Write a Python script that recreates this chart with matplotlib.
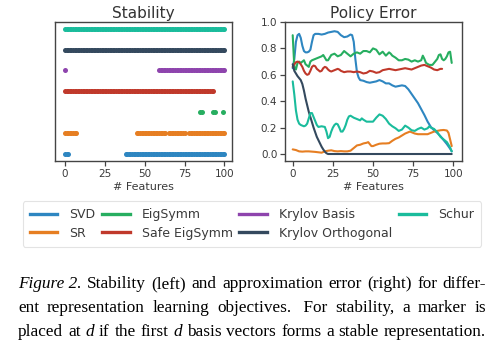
import numpy as np
import matplotlib
matplotlib.use("Agg")
import matplotlib.pyplot as plt
from matplotlib.lines import Line2D

# ---------------- data ----------------
methods = ["SVD", "SR", "EigSymm", "Safe EigSymm", "Krylov Basis", "Krylov Orthogonal", "Schur"]
colors = ["#2e86c1", "#e67e22", "#27ae60", "#c0392b", "#8e44ad", "#34495e", "#1abc9c"]

# stability: ranges (inclusive) of d where the first d basis vectors are stable
stab_svd = [(0, 2), (38, 100)]
stab_sr = [(0, 7), (45, 63), (65, 75), (78, 100)]
stab_eig = [(85, 86), (93, 94), (99, 99)]
stab_safe = [(0, 93)]
stab_kb = [(0, 0), (59, 100)]
stab_ko = [(0, 100)]
stab_schur = [(0, 100)]

# policy error curves (x = # features, y = error)
svd_x = [0,1,2,3,4,5,6,7,8,9,10,11,12,13,14,16,18,20,22,24,26,28,30,32,34,36,37,38,39,40,41,42,44,46,48,50,52,54,56,58,60,62,64,66,68,70,72,74,76,78,80,82,84,86,88,90,92,94,96,98,99]
svd_y = [0.65,0.72,0.85,0.90,0.91,0.88,0.82,0.78,0.77,0.77,0.775,0.79,0.85,0.90,0.91,0.91,0.905,0.91,0.92,0.925,0.93,0.925,0.90,0.885,0.89,0.905,0.90,0.85,0.72,0.62,0.58,0.56,0.555,0.545,0.54,0.545,0.55,0.56,0.55,0.535,0.535,0.52,0.51,0.515,0.52,0.515,0.49,0.455,0.42,0.385,0.34,0.295,0.245,0.205,0.18,0.16,0.135,0.105,0.075,0.04,0.02]

sr_x = [0,2,4,6,8,10,12,14,16,18,20,22,24,26,28,30,32,34,36,38,40,42,44,46,47,48,49,50,52,54,56,58,60,62,64,66,68,70,72,73,74,76,78,80,82,84,86,88,90,92,94,96,97,98,99]
sr_y = [0.035,0.03,0.02,0.018,0.02,0.02,0.018,0.016,0.013,0.01,0.02,0.025,0.028,0.022,0.02,0.022,0.02,0.02,0.025,0.045,0.065,0.07,0.08,0.085,0.09,0.075,0.06,0.06,0.07,0.078,0.08,0.08,0.082,0.10,0.115,0.125,0.14,0.155,0.165,0.17,0.165,0.155,0.15,0.15,0.15,0.15,0.16,0.17,0.175,0.18,0.182,0.178,0.16,0.11,0.06]

eig_x = [0,1,2,3,4,5,6,7,8,9,10,11,12,14,16,18,19,20,21,22,24,26,28,30,32,34,36,38,40,42,44,46,48,50,52,54,56,57,58,60,61,62,64,66,68,70,72,74,76,78,80,81,82,83,85,87,88,90,91,92,93,94,95,96,97,98,99]
eig_y = [0.90,0.66,0.64,0.69,0.70,0.69,0.70,0.71,0.68,0.67,0.66,0.70,0.71,0.72,0.73,0.74,0.75,0.73,0.71,0.71,0.75,0.76,0.74,0.75,0.78,0.76,0.74,0.76,0.77,0.76,0.78,0.78,0.77,0.80,0.79,0.755,0.775,0.76,0.745,0.77,0.76,0.745,0.73,0.71,0.71,0.72,0.715,0.70,0.71,0.70,0.71,0.745,0.72,0.69,0.675,0.675,0.69,0.72,0.75,0.755,0.72,0.71,0.72,0.74,0.77,0.775,0.69]

safe_x = [0,1,2,3,4,5,6,7,8,9,10,11,12,13,14,15,16,17,18,19,20,21,22,23,24,26,28,29,30,32,34,36,38,40,42,44,46,48,50,52,54,56,58,60,62,64,66,68,70,72,74,76,78,80,82,84,86,88,90,92,93]
safe_y = [0.66,0.68,0.695,0.70,0.695,0.68,0.66,0.63,0.61,0.60,0.605,0.63,0.66,0.67,0.665,0.645,0.635,0.625,0.63,0.65,0.66,0.655,0.64,0.63,0.625,0.635,0.645,0.64,0.63,0.62,0.625,0.625,0.62,0.625,0.62,0.61,0.615,0.63,0.625,0.615,0.62,0.635,0.64,0.645,0.64,0.635,0.64,0.645,0.65,0.645,0.64,0.65,0.66,0.67,0.675,0.665,0.655,0.64,0.635,0.645,0.645]

ko_x = [0,1,2,3,4,5,6,7,8,9,10,11,12,13,14,15,16,17,18,19,20,21,22,99]
ko_y = [0.68,0.63,0.61,0.59,0.575,0.56,0.53,0.48,0.42,0.37,0.32,0.28,0.24,0.20,0.165,0.13,0.105,0.08,0.055,0.035,0.018,0.006,0.0,0.0]

schur_x = [0,1,2,3,4,5,6,7,8,9,10,11,12,13,14,15,16,18,20,21,22,23,24,25,26,27,28,29,30,31,32,33,34,35,36,38,40,42,43,44,46,48,50,52,54,56,58,60,62,64,66,68,70,72,74,76,78,80,82,84,85,86,88,90,92,94,96,98,99]
schur_y = [0.55,0.45,0.33,0.26,0.23,0.22,0.215,0.21,0.215,0.23,0.27,0.31,0.31,0.28,0.25,0.22,0.205,0.21,0.205,0.17,0.12,0.13,0.17,0.20,0.22,0.23,0.225,0.20,0.17,0.17,0.19,0.22,0.26,0.285,0.29,0.275,0.265,0.255,0.27,0.26,0.245,0.245,0.245,0.275,0.30,0.29,0.265,0.23,0.21,0.195,0.175,0.185,0.215,0.20,0.18,0.175,0.19,0.20,0.185,0.195,0.21,0.20,0.19,0.165,0.13,0.11,0.09,0.05,0.02]

stab_ticks = [0, 25, 50, 75, 100]
err_yticks = [0.0, 0.2, 0.4, 0.6, 0.8, 1.0]

caption_lines = [
    [("Figure 2.", "italic"), ("Stability", "normal"), ("(left)", "normal"), ("and", "normal"),
     ("approximation", "normal"), ("error", "normal"), ("(right)", "normal"), ("for", "normal"),
     ("differ-", "normal")],
    [("ent", "normal"), ("representation", "normal"), ("learning", "normal"), ("objectives.", "normal"),
     (" For", "normal"), ("stability,", "normal"), ("a", "normal"), ("marker", "normal"), ("is", "normal")],
    [("placed", "normal"), ("at", "normal"), ("d", "italic"), ("if", "normal"), ("the", "normal"),
     ("first", "normal"), ("d", "italic"), ("basis", "normal"), ("vectors", "normal"), ("forms", "normal"),
     ("a", "normal"), ("stable", "normal"), ("representation.", "normal")],
]

# ---------------- figure ----------------
W, H = 498, 348
plt.rcParams["font.family"] = ["DejaVu Sans"]
fig = plt.figure(figsize=(W / 100, H / 100), dpi=100)

def px_axes(l, t, r, b):
    return fig.add_axes([l / W, 1 - b / H, (r - l) / W, (b - t) / H])

ax1 = px_axes(55, 22, 232, 161)
ax2 = px_axes(285, 22, 462, 161)

spine_c = "#444444"
text_c = "#3a3a3a"
for ax in (ax1, ax2):
    for s in ax.spines.values():
        s.set_color(spine_c)
        s.set_linewidth(1.0)
    ax.tick_params(axis="both", colors=spine_c, labelcolor=text_c, labelsize=7.5,
                   length=3.5, width=0.9, direction="out", pad=2)
    ax.set_xlabel("# Features", fontsize=8, color=text_c, labelpad=2.5)

# stability panel
stabs = [stab_svd, stab_sr, stab_eig, stab_safe, stab_kb, stab_ko, stab_schur]
for level, (ranges, c) in enumerate(zip(stabs, colors)):
    xs = np.concatenate([np.arange(a, b + 1) for a, b in ranges])
    ax1.plot(xs, np.full(len(xs), level), linestyle="none", marker="o", ms=3.6,
             mew=0, color=c)
ax1.set_xlim(-6.3, 104.8)
ax1.set_ylim(-0.35, 6.32)
ax1.set_yticks([])
ax1.set_xticks(stab_ticks)
ax1.set_title("Stability", fontsize=11, color="#333333", pad=3)

# policy error panel
curves = [(svd_x, svd_y), (sr_x, sr_y), (eig_x, eig_y), (safe_x, safe_y),
          (ko_x, ko_y), (schur_x, schur_y)]
cidx = [0, 1, 2, 3, 5, 6]
for (xs, ys), i in zip(curves, cidx):
    ax2.plot(xs, ys, color=colors[i], lw=1.5, solid_capstyle="round")
ax2.set_xlim(-4.8, 105.4)
ax2.set_ylim(-0.053, 1.0)
ax2.set_xticks(stab_ticks)
ax2.set_yticks(err_yticks)
ax2.set_yticklabels([f"{v:.1f}" for v in err_yticks])
ax2.set_title("Policy Error", fontsize=11, color="#333333", pad=3)

# legend
handles = [Line2D([], [], color=c, lw=2.4) for c in colors]
leg = fig.legend(handles, methods, ncol=4, loc="center",
                 bbox_to_anchor=(252 / W, 1 - 224 / H), fontsize=9,
                 handlelength=2.2, handletextpad=0.95, columnspacing=0.55,
                 labelspacing=0.45, frameon=True, fancybox=True, borderpad=0.55)
leg.get_frame().set_edgecolor("#dddddd")
leg.get_frame().set_linewidth(0.8)
for t in leg.get_texts():
    t.set_color(text_c)

# caption, justified word-by-word
renderer = fig.canvas.get_renderer()
cap_font = "Liberation Serif"
cap_size = 12.4
x0, x1 = 18, 486
baselines = [288.5, 312, 335.5]
for words, yb in zip(caption_lines, baselines):
    objs = []
    for w, style in words:
        t = fig.text(0, 1 - yb / H, w, fontsize=cap_size, family=cap_font, style=style,
                     color="black", va="baseline", ha="left")
        objs.append(t)
    widths = [t.get_window_extent(renderer).width for t in objs]
    gap = (x1 - x0 - sum(widths)) / (len(objs) - 1)
    x = x0
    for t, w in zip(objs, widths):
        t.set_x(x / W)
        x += w + gap

fig.savefig("out.png", dpi=100)
